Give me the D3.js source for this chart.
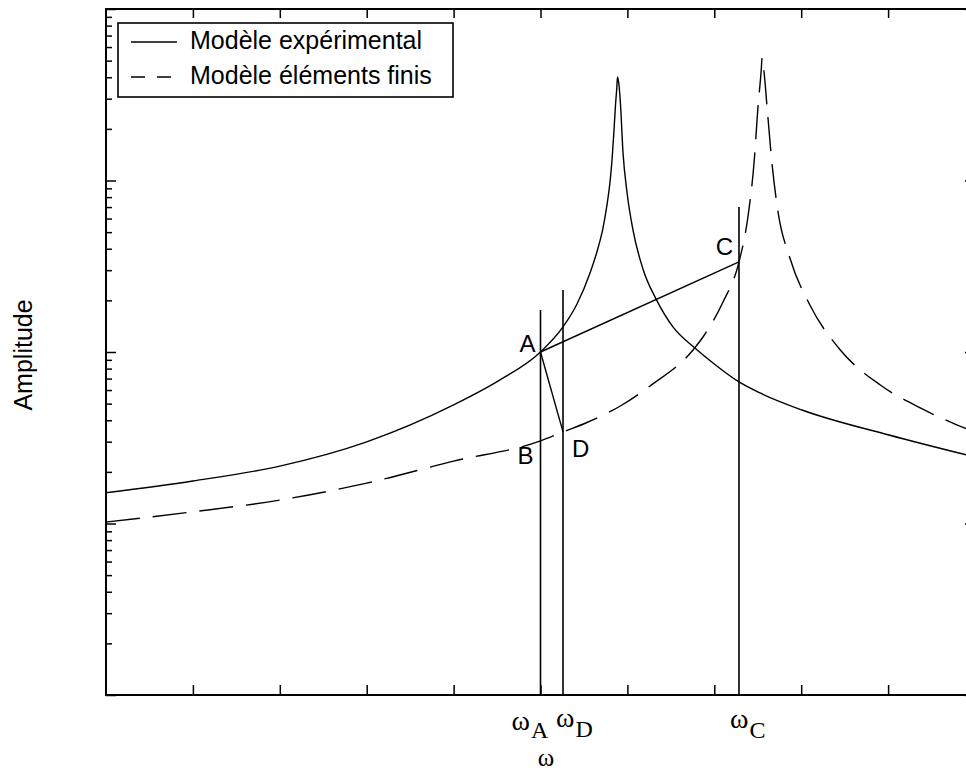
<!DOCTYPE html>
<html>
<head>
<meta charset="utf-8">
<script src="https://cdn.jsdelivr.net/npm/d3@7"></script>
<style>
  html, body { margin: 0; background: #fff; }
  svg { display: block; }
</style>
</head>
<body>
<svg id="chart" width="966" height="771"></svg>
<script>
// Frequency response, experimental model (solid)
const freqExp = [0, 1.0, 2.0, 3.0, 4.0, 4.534, 5.0, 5.259, 5.42, 5.57, 5.662, 5.719, 5.765, 5.80, 5.823,
                 5.846, 5.863, 5.878, 5.886, 5.903, 5.921, 5.949, 5.995, 6.064, 6.179, 6.329, 6.524,
                 6.777, 6.985, 7.284, 7.526, 8.009, 9.01, 10];
const ampExp  = [15.1, 17.7, 21.6, 29.9, 49.1, 68.7, 100, 140, 190.5, 289, 404, 528, 720, 980, 1317,
                 1970, 2756, 3463, 4013, 3605, 2756, 1466, 857, 515, 305, 204, 140,
                 105.5, 86.3, 66.9, 57.7, 45.9, 32.8, 24.4];

// Frequency response, finite element model (dashed)
const freqFE = [0, 1.0, 2.0, 3.0, 4.0, 5.0, 5.259, 5.535, 5.938, 6.26, 6.755, 6.87, 7.10, 7.284, 7.39,
                7.46, 7.50, 7.54, 7.55, 7.57, 7.61, 7.66, 7.73, 7.87, 8.10, 8.45, 8.91, 9.37, 9.77, 10];
const ampFE  = [10.2, 11.7, 13.7, 17.2, 23.1, 30.3, 34.2, 38.8, 49.1, 63.4, 102.7, 122.3, 195.6, 335, 629,
                1317, 2577, 4410, 5180, 4410, 2577, 1317, 673, 353, 188, 102.7, 64.2, 47.2, 38.0, 34.2];

// Named points A, B, C, D
const pointNames = ["A", "B", "C", "D"];
const pointFreq  = [5.0, 5.0, 7.284, 5.259];
const pointAmp   = [100, 30.3, 335, 34.2];

// Vertical frequency markers ωA, ωD, ωC and the amplitude where each stops
const omegaNames = ["A", "D", "C"];
const omegaFreq  = [5.0, 5.259, 7.284];
const omegaTop   = [176, 230, 700];

// Segments joining the named points
const segments = [["A", "C"], ["A", "D"]];

const legendLabels = ["Modèle expérimental", "Modèle éléments finis"];
const xTickValues = [1, 2, 3, 4, 5, 6, 7, 8, 9];
const yDecades = [1, 10, 100, 1000, 10000];

(function draw() {
  const svg = d3.select("#chart");
  const mL = 106, mR = 975, mT = 9, mB = 695;

  const x = d3.scaleLinear().domain([0, 10]).range([mL, mR]);
  const y = d3.scaleLog().domain([1, 1e4]).range([mB, mT]);

  const sans = "'Liberation Sans', Arial, Helvetica, sans-serif";
  const serif = "'Liberation Serif', 'Times New Roman', serif";

  svg.append("defs").append("clipPath").attr("id", "plot-clip")
    .append("rect").attr("x", mL).attr("y", mT)
    .attr("width", mR - mL).attr("height", mB - mT);

  // minor log ticks
  const yMinor = [];
  for (let d = 1; d < 1e4; d *= 10) for (let k = 2; k <= 9; k++) yMinor.push(d * k);

  function styleAxis(g) {
    g.select(".domain").remove();
    g.selectAll(".tick line").attr("stroke", "#000").attr("stroke-width", 1.5);
    g.selectAll(".tick text").remove();
  }

  svg.append("g").attr("transform", `translate(0,${mB})`)
    .call(d3.axisBottom(x).tickValues(xTickValues).tickSize(-10).tickFormat("")).call(styleAxis);
  svg.append("g").attr("transform", `translate(0,${mT})`)
    .call(d3.axisTop(x).tickValues(xTickValues).tickSize(-9).tickFormat("")).call(styleAxis);
  svg.append("g").attr("transform", `translate(${mL},0)`)
    .call(d3.axisLeft(y).tickValues(yDecades).tickSize(-10).tickFormat("")).call(styleAxis);
  svg.append("g").attr("transform", `translate(${mL},0)`)
    .call(d3.axisLeft(y).tickValues(yMinor).tickSize(-6).tickFormat("")).call(styleAxis);
  svg.append("g").attr("transform", `translate(${mR},0)`)
    .call(d3.axisRight(y).tickValues(yDecades).tickSize(-10).tickFormat("")).call(styleAxis);
  svg.append("g").attr("transform", `translate(${mR},0)`)
    .call(d3.axisRight(y).tickValues(yMinor).tickSize(-6).tickFormat("")).call(styleAxis);

  // plot frame
  svg.append("rect").attr("x", mL).attr("y", mT)
    .attr("width", mR - mL).attr("height", mB - mT)
    .attr("fill", "none").attr("stroke", "#000").attr("stroke-width", 2);

  const plot = svg.append("g").attr("clip-path", "url(#plot-clip)");

  const line = d3.line().x(d => x(d[0])).y(d => y(d[1])).curve(d3.curveMonotoneX);

  plot.append("path").datum(d3.zip(freqExp, ampExp))
    .attr("d", line).attr("fill", "none").attr("stroke", "#000").attr("stroke-width", 1.4);

  plot.append("path").datum(d3.zip(freqFE, ampFE))
    .attr("d", line).attr("fill", "none").attr("stroke", "#000").attr("stroke-width", 1.4)
    .attr("stroke-dasharray", "34,13");

  // vertical markers
  plot.selectAll("line.omega").data(d3.range(omegaNames.length)).join("line")
    .attr("class", "omega")
    .attr("x1", i => x(omegaFreq[i])).attr("x2", i => x(omegaFreq[i]))
    .attr("y1", y(1)).attr("y2", i => y(omegaTop[i]))
    .attr("stroke", "#000").attr("stroke-width", 1.6);

  const pt = name => { const i = pointNames.indexOf(name); return [pointFreq[i], pointAmp[i]]; };
  plot.selectAll("line.seg").data(segments).join("line")
    .attr("class", "seg")
    .attr("x1", s => x(pt(s[0])[0])).attr("y1", s => y(pt(s[0])[1]))
    .attr("x2", s => x(pt(s[1])[0])).attr("y2", s => y(pt(s[1])[1]))
    .attr("stroke", "#000").attr("stroke-width", 1.4);

  // point labels, offset from each point
  const pointLabelOffset = { A: [-5, 0, "end"], B: [-7, 23, "end"], C: [-6, -7, "end"], D: [9, 25, "start"] };
  svg.selectAll("text.pt").data(pointNames).join("text")
    .attr("class", "pt")
    .attr("x", n => x(pt(n)[0]) + pointLabelOffset[n][0])
    .attr("y", n => y(pt(n)[1]) + pointLabelOffset[n][1])
    .attr("text-anchor", n => pointLabelOffset[n][2])
    .attr("font-family", sans).attr("font-size", 24).text(n => n);

  // ω labels under the markers: [x offset from marker, ω baseline, subscript baseline]
  const omegaLabelOffset = { A: [-29, 730, 738], D: [-7, 727, 737], C: [-9, 728, 738] };
  omegaNames.forEach((n, i) => {
    const o = omegaLabelOffset[n];
    const x0 = x(omegaFreq[i]) + o[0];
    const t = svg.append("text").attr("font-family", serif)
      .attr("x", x0).attr("y", o[1]);
    t.append("tspan").attr("font-size", 28).text("ω");
    t.append("tspan").attr("font-size", 24).attr("dy", o[2] - o[1]).attr("dx", 1).text(n);
  });

  // axis titles
  svg.append("text").attr("x", 546).attr("y", 766).attr("text-anchor", "middle")
    .attr("font-family", serif).attr("font-size", 25).text("ω");
  svg.append("text").attr("transform", "translate(32,355) rotate(-90)")
    .attr("text-anchor", "middle").attr("font-family", sans).attr("font-size", 25).text("Amplitude");

  // legend
  const lg = svg.append("g");
  lg.append("rect").attr("x", 118).attr("y", 23).attr("width", 335).attr("height", 74)
    .attr("fill", "#fff").attr("stroke", "#000").attr("stroke-width", 1.6);
  const legendRows = [42, 77];
  legendLabels.forEach((label, i) => {
    const yy = legendRows[i];
    lg.append("line").attr("x1", 131).attr("x2", i === 0 ? 177 : 171).attr("y1", yy).attr("y2", yy)
      .attr("stroke", "#000").attr("stroke-width", 1.4)
      .attr("stroke-dasharray", i === 0 ? null : "14,12");
    lg.append("text").attr("x", 190).attr("y", yy + 7)
      .attr("font-family", sans).attr("font-size", 25).text(label);
  });
})();
</script>
</body>
</html>
